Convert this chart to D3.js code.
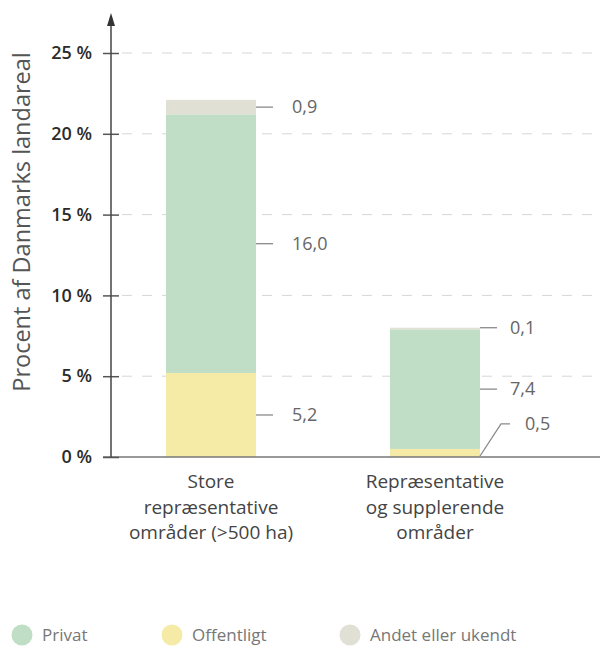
<!DOCTYPE html>
<html>
<head>
<meta charset="utf-8">
<script src="https://cdn.jsdelivr.net/npm/d3@7/dist/d3.min.js"></script>
<style>
  html, body { margin: 0; padding: 0; background: #fff; }
  svg { display: block; font-family: "Open Sans", "Noto Sans", sans-serif; }
</style>
</head>
<body>
<svg id="chart" width="606" height="649"></svg>
<script>
// Share of Danish land area by ownership, per area type
const categories = [
  ["Store", "repræsentative", "områder (>500 ha)"],
  ["Repræsentative", "og supplerende", "områder"]
];
const seriesNames = ["Offentligt", "Privat", "Andet eller ukendt"];
const offentligt = [5.2, 0.5];
const privat = [16.0, 7.4];
const andet = [0.9, 0.1];
const valueLabels = [["5,2", "16,0", "0,9"], ["0,5", "7,4", "0,1"]];
const yTicks = [0, 5, 10, 15, 20, 25];
const legendItems = ["Privat", "Offentligt", "Andet eller ukendt"];

const colors = {
  "Privat": "#c0dec5",
  "Offentligt": "#f5eba6",
  "Andet eller ukendt": "#e1e0d4"
};

const svg = d3.select("#chart");

const y = d3.scaleLinear().domain([0, 25]).range([457, 53]);
const x = d3.scaleBand().domain([0, 1]).range([111, 535]).paddingInner(0.598).paddingOuter(0.2455);

// gridlines
svg.append("g").selectAll("line")
  .data(yTicks.filter(d => d > 0))
  .join("line")
  .attr("x1", 122).attr("x2", 598)
  .attr("y1", d => y(d)).attr("y2", d => y(d))
  .attr("stroke", "#d6d6d6").attr("stroke-width", 1)
  .attr("stroke-dasharray", "10,10");

// stacked bars
const rows = categories.map((c, i) => ({
  i, "Offentligt": offentligt[i], "Privat": privat[i], "Andet eller ukendt": andet[i]
}));
const stack = d3.stack().keys(seriesNames)(rows);

svg.append("g").selectAll("g")
  .data(stack)
  .join("g")
  .attr("fill", d => colors[d.key])
  .selectAll("rect")
  .data(d => d)
  .join("rect")
  .attr("x", d => x(d.data.i))
  .attr("width", x.bandwidth())
  .attr("y", d => y(d[1]))
  .attr("height", d => y(d[0]) - y(d[1]));

// value labels with leader lines
const labG = svg.append("g");
stack.forEach((layer, k) => {
  layer.forEach((d, i) => {
    const x0 = x(i) + x.bandwidth();
    const gap = i === 0 ? 36 : 30;
    let ym = y((d[0] + d[1]) / 2);
    const txt = valueLabels[i][k];
    const small = (d[1] - d[0]) < 0.3;
    if (k === 2 && small) ym = y(d[1]);
    if (k === 0 && i === 1) {
      // tiny segment: angled leader
      const yl = y(d[1]) - 25;
      labG.append("path")
        .attr("d", `M${x0},${y(0) - 1}L${x0 + 21},${yl}L${x0 + 30},${yl}`)
        .attr("fill", "none").attr("stroke", "#8a8a8a").attr("stroke-width", 1.3);
      labG.append("text")
        .attr("x", x0 + 45).attr("y", yl).attr("dy", "0.35em")
        .attr("fill", "#666").attr("font-size", 18).text(txt);
    } else {
      labG.append("line")
        .attr("x1", x0).attr("x2", x0 + 17)
        .attr("y1", ym).attr("y2", ym)
        .attr("stroke", "#8a8a8a").attr("stroke-width", 1.3);
      labG.append("text")
        .attr("x", x0 + gap).attr("y", ym).attr("dy", "0.35em")
        .attr("fill", "#666").attr("font-size", 18).text(txt);
    }
  });
});

// x baseline
svg.append("line")
  .attr("x1", 103).attr("x2", 600)
  .attr("y1", y(0)).attr("y2", y(0))
  .attr("stroke", "#777").attr("stroke-width", 1.5);

// y axis
const yAxis = d3.axisLeft(y).tickValues(yTicks).tickSize(0).tickPadding(0)
  .tickFormat(d => d + " %");
const ya = svg.append("g").attr("transform", "translate(111,0)").call(yAxis);
ya.select(".domain").remove();
ya.selectAll(".tick line").remove();
ya.selectAll(".tick").append("line")
  .attr("x1", -8).attr("x2", 8)
  .attr("stroke", "#555").attr("stroke-width", 1.5);
ya.selectAll(".tick text")
  .attr("x", -19)
  .attr("font-size", 18).attr("font-weight", 600)
  .attr("fill", "#2b2b2b")
  .attr("font-family", "\"Open Sans\", sans-serif");

svg.append("line")
  .attr("x1", 111).attr("x2", 111)
  .attr("y1", y(0)).attr("y2", 22)
  .attr("stroke", "#444").attr("stroke-width", 1.5);
svg.append("path")
  .attr("d", "M111,13L107,26L115,26Z")
  .attr("fill", "#333");

// y title
svg.append("text")
  .attr("transform", "translate(30,222) rotate(-90)")
  .attr("text-anchor", "middle")
  .attr("font-size", 23.5).attr("fill", "#555")
  .text("Procent af Danmarks landareal");

// category labels
const catG = svg.append("g");
categories.forEach((lines, i) => {
  const t = catG.append("text")
    .attr("x", x(i) + x.bandwidth() / 2)
    .attr("y", 488)
    .attr("text-anchor", "middle")
    .attr("font-size", 19).attr("fill", "#444");
  lines.forEach((l, j) => {
    t.append("tspan").attr("x", x(i) + x.bandwidth() / 2)
      .attr("dy", j === 0 ? 0 : 25.5).text(l);
  });
});

// legend
const legendX = [22, 172, 350];
const lg = svg.append("g").selectAll("g")
  .data(legendItems)
  .join("g")
  .attr("transform", (d, i) => `translate(${legendX[i]},635)`);
lg.append("circle").attr("r", 10.5).attr("fill", d => colors[d]);
lg.append("text")
  .attr("x", 20).attr("dy", "0.35em")
  .attr("font-size", 17).attr("fill", "#777")
  .text(d => d);
</script>
</body>
</html>
